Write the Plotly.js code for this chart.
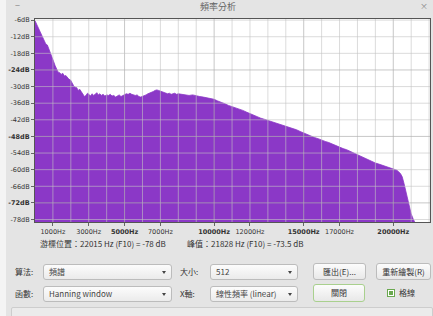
<!DOCTYPE html>
<html><head><meta charset="utf-8">
<script src="https://cdn.plot.ly/plotly-3.0.1.min.js"></script>
<style>
html,body{margin:0;padding:0;width:433px;height:316px;overflow:hidden;background:#f4f4f4;font-family:"Noto Sans CJK TC","Noto Sans",sans-serif;}
#win{position:absolute;left:6px;top:0;width:427px;height:316px;background:#e4e4e4;}
#chart{position:absolute;left:0;top:0;width:433px;height:316px;}
.t{position:absolute;font-size:8px;color:#333;white-space:nowrap;line-height:10px;}
.dd{position:absolute;height:16px;border:1px solid #bcbcbc;border-radius:3px;background:linear-gradient(#fcfcfc,#ebebeb);box-sizing:border-box;font-size:8px;color:#444;line-height:14px;padding-left:5px;white-space:nowrap;}
.dd:after{content:"";position:absolute;right:5px;top:6px;border-left:2.5px solid transparent;border-right:2.5px solid transparent;border-top:3px solid #444;}
.btn{position:absolute;border:1px solid #bcbcbc;border-radius:3px;background:linear-gradient(#fcfcfc,#e8e8e8);box-sizing:border-box;font-size:8px;color:#333;text-align:center;white-space:nowrap;}
</style></head>
<body>
<div id="win"></div>
<div class="t" style="left:200px;top:2px;font-size:9px;color:#666;">頻率分析</div>
<div class="t" style="left:15px;top:1px;font-size:9px;color:#888;">−</div>
<div class="t" style="left:420px;top:1px;font-size:8px;color:#888;">×</div>
<div id="chart"></div>
<div class="t" id="cur1" style="left:40px;top:239px;"></div>
<div class="t" id="cur2" style="left:187px;top:239px;"></div>
<div class="t" style="left:15px;top:267px;">算法:</div>
<div class="dd" style="left:43px;top:264px;width:129px;">頻譜</div>
<div class="t" style="left:180px;top:267px;">大小:</div>
<div class="dd" style="left:210px;top:264px;width:88px;">512</div>
<div class="btn" style="left:313px;top:263px;width:53px;height:17px;line-height:15px;">匯出(E)...</div>
<div class="btn" style="left:376px;top:263px;width:55px;height:17px;line-height:15px;">重新繪製(R)</div>
<div class="t" style="left:15px;top:289px;">函數:</div>
<div class="dd" style="left:43px;top:286px;width:129px;">Hanning window</div>
<div class="t" style="left:180px;top:289px;">X軸:</div>
<div class="dd" style="left:210px;top:286px;width:88px;">線性頻率 (linear)</div>
<div class="btn" style="left:313px;top:284px;width:52px;height:18px;line-height:15px;border:1.5px solid #a9d08e;">關閉</div>
<div style="position:absolute;left:387px;top:289px;width:8px;height:8px;box-sizing:border-box;border:1px solid #6aa84f;background:#fff;"><div style="position:absolute;left:1px;top:1px;width:4px;height:4px;background:#6aa84f;"></div></div>
<div class="t" style="left:399px;top:288px;">格線</div>
<div style="position:absolute;left:11px;top:307px;width:422px;height:12px;box-sizing:border-box;border:1px solid #cdcdcd;border-radius:2px;background:#ebebeb;"></div>
<script>
// Spectrum data (frequency in Hz, level in dB)
const HZ = [0,90,180,260,350,430,520,600,690,780,860,950,1030,1120,1210,1290,1380,1460,1550,1640,1720,1810,1900,1980,2070,2150,2240,2330,2410,2500,2580,2670,2760,2840,2930,3010,3100,3190,3270,3360,3450,3530,3620,3700,3800,3900,4000,4100,4200,4300,4400,4500,4600,4700,4800,4900,5000,5100,5200,5300,5400,5500,5600,5700,5800,5900,6000,6100,6200,6300,6400,6500,6600,6700,6800,6900,7000,7100,7200,7300,7400,7500,7600,7700,7800,7900,8000,8200,8400,8600,8800,9000,9200,9400,9600,9800,10000,10200,10400,10600,10800,11000,11200,11400,11600,11800,12000,12200,12400,12600,12800,13000,13200,13400,13600,13800,14000,14200,14400,14600,14800,15000,15200,15400,15600,15800,16000,16200,16400,16600,16800,17000,17200,17400,17600,17800,18000,18200,18400,18600,18800,19000,19200,19400,19600,19800,20000,20200,20400,20500,20600,20700,20800,20900,21000,21100,21200,21400,21600,21800,22050];
const DB = [-6.2,-7.5,-8.8,-9.6,-11.0,-12.4,-13.2,-14.6,-15.0,-16.4,-17.6,-19.2,-20.8,-22.4,-23.6,-24.8,-25.0,-25.6,-25.2,-26.2,-26.0,-26.8,-27.4,-27.6,-28.8,-29.6,-30.2,-30.4,-31.4,-31.0,-31.8,-32.8,-33.6,-33.2,-32.4,-32.8,-33.4,-32.6,-33.2,-32.8,-32.2,-33.0,-32.6,-33.2,-32.8,-33.4,-33.0,-33.2,-32.8,-33.4,-33.2,-33.8,-33.4,-33.0,-33.6,-33.2,-32.8,-32.6,-32.8,-32.4,-32.8,-33.0,-33.2,-33.0,-33.6,-33.8,-33.6,-33.4,-33.0,-32.6,-32.4,-32.0,-31.8,-31.4,-31.2,-31.4,-31.6,-31.8,-32.0,-32.4,-32.6,-32.4,-32.8,-32.6,-32.4,-32.8,-32.6,-32.8,-33.0,-33.2,-33.0,-33.4,-33.6,-33.8,-34.0,-34.4,-34.6,-35.2,-35.6,-36.2,-36.8,-37.2,-37.6,-38.2,-38.6,-39.2,-39.8,-40.4,-40.8,-41.4,-41.8,-42.2,-42.6,-43.2,-43.6,-43.8,-44.2,-44.8,-45.0,-45.6,-46.2,-46.8,-47.4,-47.8,-48.4,-48.8,-49.4,-49.8,-50.2,-50.8,-51.4,-51.8,-52.4,-52.8,-53.4,-54.0,-54.6,-55.2,-55.8,-56.6,-57.2,-57.6,-58.0,-58.4,-58.8,-59.2,-59.6,-60.2,-61.4,-62.6,-65.0,-67.6,-70.6,-73.8,-76.0,-77.6,-79.0,-80.5,-81.5,-82.5,-85.0];
const DB_FLOOR = -100;

// Axis ticks
const X_TICKS = [1000,3000,5000,7000,10000,12000,15000,17000,20000];
const X_LABELS = ["1000Hz","3000Hz","<b>5000Hz</b>","7000Hz","<b>10000Hz</b>","12000Hz","<b>15000Hz</b>","17000Hz","<b>20000Hz</b>"];
const Y_TICKS = [-6,-12,-18,-24,-30,-36,-42,-48,-54,-60,-66,-72,-78];
const Y_LABELS = ["-6dB","-12dB","-18dB","<b>-24dB</b>","-30dB","-36dB","-42dB","<b>-48dB</b>","-54dB","-60dB","-66dB","<b>-72dB</b>","-78dB"];

// Status texts
const CURSOR_TEXT = "游標位置：22015 Hz (F10) = -78 dB";
const PEAK_TEXT = "峰值：21828 Hz (F10) = -73.5 dB";
document.getElementById('cur1').textContent = CURSOR_TEXT;
document.getElementById('cur2').textContent = PEAK_TEXT;

const X_RANGE = [0, 22050];
const Y_RANGE = [-78.9, -5.6];
const PURPLE = '#8b38c7';

const shapes = [];
for (let f = 1000; f < X_RANGE[1]; f += 1000) {
  const major = f % 5000 === 0;
  shapes.push({type:'line', xref:'x', yref:'paper', x0:f, x1:f, y0:0, y1:1, layer:'above',
    line:{color: major ? 'rgba(175,175,175,0.7)' : 'rgba(195,195,195,0.6)', width:1}});
}
for (const d of Y_TICKS) {
  const major = d % 24 === 0;
  shapes.push({type:'line', xref:'paper', yref:'y', x0:0, x1:1, y0:d, y1:d, layer:'above',
    line:{color: major ? 'rgba(175,175,175,0.7)' : 'rgba(195,195,195,0.6)', width:1}});
}

const traces = [
  {x: HZ, y: HZ.map(() => DB_FLOOR), type:'scatter', mode:'lines', line:{width:0, color:PURPLE}, hoverinfo:'skip', showlegend:false},
  {x: HZ, y: DB, type:'scatter', mode:'lines', fill:'tonexty', fillcolor:PURPLE, line:{width:0.8, color:PURPLE}, showlegend:false}
];

const tickFont = {family:'"DejaVu Sans", sans-serif', size:6.5, color:'#333'};
const layout = {
  width:433, height:316,
  margin:{l:35, r:3, t:19, b:94, pad:0},
  paper_bgcolor:'rgba(0,0,0,0)', plot_bgcolor:'#ffffff',
  showlegend:false,
  xaxis:{range:X_RANGE, tickmode:'array', tickvals:X_TICKS, ticktext:X_LABELS, showgrid:false, zeroline:false,
    ticks:'outside', ticklen:3, tickcolor:'#666', tickfont:tickFont, showline:true, mirror:true, linecolor:'#555', linewidth:1, fixedrange:true},
  yaxis:{range:Y_RANGE, tickmode:'array', tickvals:Y_TICKS, ticktext:Y_LABELS, showgrid:false, zeroline:false,
    ticks:'outside', ticklen:3, tickcolor:'#666', tickfont:tickFont, showline:true, mirror:true, linecolor:'#555', linewidth:1, fixedrange:true},
  shapes: shapes
};
Plotly.newPlot('chart', traces, layout, {displayModeBar:false, staticPlot:true});
</script>
</body></html>
